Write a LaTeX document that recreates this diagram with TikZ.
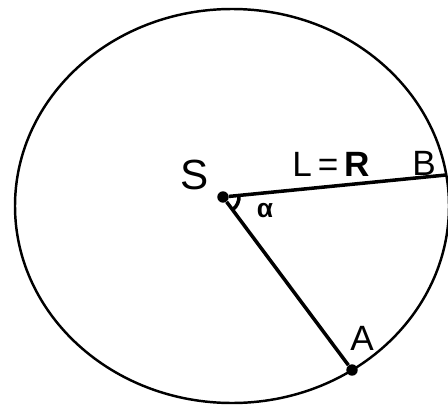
\documentclass[tikz,border=0pt]{standalone}
\usepackage{fontspec}
\setmainfont{Liberation Sans}
\usetikzlibrary{angles}

\begin{document}
\begin{tikzpicture}[x=.02cm,y=.02cm,font=\fontsize{20}{22}\selectfont,
 rim/.style={line width=1.4pt},
 ray/.style={line width=2pt},
 dot/.style={circle,fill,inner sep=0pt,minimum size=6.5pt}]
\path[use as bounding box] (0,0) rectangle (448,406);
\draw[rim] (232,200) ellipse [x radius=217,y radius=197];
% centre and the two points on the rim
\node[dot] (S) at (223,209) {};
\node[dot] (A) at (352,36) {};
\coordinate (B) at (446,231);
\draw[ray] (S) -- (B);
\draw[ray] (S) -- (A);
\pic[draw,ray,angle radius=.32cm]{angle=A--S--B};
\node (labS) at (195,231) {\fontsize{24}{26}\selectfont S};
\node (labL) at (331,242) {L\,=\,\textbf{R}};
\node (labB) at (424,243) {B};
\node (labA) at (362,68) {A};
\node[font=\fontsize{15}{16}\selectfont\bfseries] (alpha) at (265,195) {α};
\end{tikzpicture}
\end{document}
